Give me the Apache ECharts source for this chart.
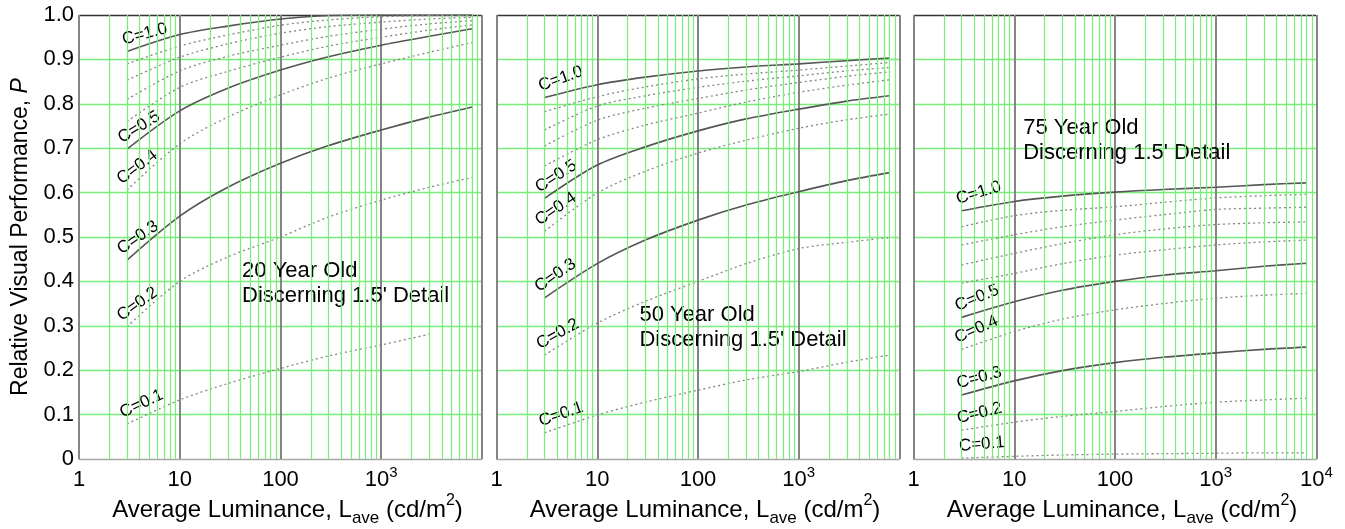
<!DOCTYPE html>
<html>
<head>
<meta charset="utf-8">
<title>Relative Visual Performance</title>
<script src="https://cdn.jsdelivr.net/npm/echarts@6/dist/echarts.min.js"></script>
<style>
    html, body { margin: 0; padding: 0; background: #fff; }
    #rvp_chart { width: 1345px; height: 529px; }
</style>
</head>
<body>
<div id="rvp_chart"></div>
<script>

// Data
// ------------------------------

// Average luminance sample points (cd/m2)
var luminance = [3, 10, 30, 100, 300, 1000, 3000, 8000];

// Contrast of each curve, top to bottom
var contrasts = ['1.0', '0.9', '0.8', '0.7', '0.6', '0.5', '0.4', '0.3', '0.2', '0.1'];

// Relative visual performance, one row per contrast (same order as contrasts)
var perf20 = [
    [0.918, 0.956, 0.975, 0.991, 0.999, 1.000, 1.000, 1.000],
    [0.890, 0.930, 0.955, 0.977, 0.989, 0.996, 0.999, 1.000],
    [0.853, 0.905, 0.935, 0.959, 0.974, 0.984, 0.991, 0.995],
    [0.810, 0.874, 0.907, 0.932, 0.952, 0.968, 0.980, 0.987],
    [0.760, 0.837, 0.873, 0.905, 0.930, 0.950, 0.966, 0.978],
    [0.698, 0.784, 0.835, 0.876, 0.906, 0.932, 0.952, 0.969],
    [0.606, 0.710, 0.770, 0.820, 0.858, 0.890, 0.916, 0.938],
    [0.448, 0.547, 0.612, 0.666, 0.706, 0.741, 0.770, 0.793],
    [0.298, 0.400, 0.455, 0.500, 0.545, 0.583, 0.612, 0.634],
    [0.079, 0.133, 0.170, 0.204, 0.232, 0.257, 0.281, null]
];

var perf50 = [
    [0.814, 0.843, 0.860, 0.874, 0.883, 0.890, 0.897, 0.903],
    [0.782, 0.816, 0.838, 0.856, 0.867, 0.876, 0.885, 0.893],
    [0.741, 0.795, 0.818, 0.837, 0.851, 0.863, 0.874, 0.882],
    [0.705, 0.763, 0.790, 0.812, 0.831, 0.848, 0.862, 0.872],
    [0.660, 0.719, 0.752, 0.779, 0.804, 0.826, 0.842, 0.854],
    [0.587, 0.662, 0.703, 0.739, 0.766, 0.788, 0.806, 0.818],
    [0.513, 0.599, 0.648, 0.689, 0.718, 0.745, 0.764, 0.777],
    [0.363, 0.440, 0.493, 0.538, 0.572, 0.602, 0.627, 0.645],
    [0.234, 0.306, 0.355, 0.400, 0.440, 0.474, 0.488, 0.499],
    [0.059, 0.099, 0.128, 0.155, 0.178, 0.197, 0.218, 0.234]
];

var perf75 = [
    [0.559, 0.580, 0.592, 0.601, 0.607, 0.612, 0.618, 0.622],
    [0.523, 0.548, 0.560, 0.568, 0.578, 0.588, 0.593, 0.596],
    [0.482, 0.505, 0.523, 0.538, 0.550, 0.562, 0.565, 0.567],
    [0.437, 0.463, 0.485, 0.505, 0.518, 0.528, 0.532, 0.534],
    [0.396, 0.418, 0.440, 0.459, 0.471, 0.482, 0.489, 0.493],
    [0.319, 0.354, 0.380, 0.400, 0.414, 0.424, 0.434, 0.441],
    [0.247, 0.287, 0.315, 0.336, 0.350, 0.362, 0.369, 0.373],
    [0.144, 0.176, 0.199, 0.217, 0.229, 0.239, 0.247, 0.252],
    [0.065, 0.083, 0.096, 0.107, 0.118, 0.128, 0.133, 0.137],
    [0.002, 0.006, 0.009, 0.011, 0.012, 0.013, 0.014, 0.014]
];

var panelTitles = ['20 Year Old', '50 Year Old', '75 Year Old'];

// Log grid: minor lines at 2..9 of every decade
var decades = [1, 10, 100, 1000];
var minorSteps = [2, 3, 4, 5, 6, 7, 8, 9];

// Y tick values
var yTicks = [0, 0.1, 0.2, 0.3, 0.4, 0.5, 0.6, 0.7, 0.8, 0.9, 1.0];


// Setup
// ------------------------------

var FONT = "'Liberation Sans', Arial, Helvetica, sans-serif";
var GREEN = '#78ee78';

var solidCurves = ['1.0', '0.5', '0.3'];
var labelledCurves = ['1.0', '0.5', '0.4', '0.3', '0.2', '0.1'];

// Layout per panel
var panels = [
    { left: 79,    perf: perf20, note: [42, 0.45],    angles: { '1.0': 15, '0.5': 32, '0.4': 37, '0.3': 35, '0.2': 36, '0.1': 25 } },
    { left: 496.5, perf: perf50, note: [26.5, 0.351], angles: { '1.0': 20, '0.5': 33, '0.4': 34, '0.3': 35, '0.2': 29, '0.1': 19 } },
    { left: 913.5, perf: perf75, note: [12.4, 0.773], angles: { '1.0': 17, '0.5': 22, '0.4': 24, '0.3': 15, '0.2': 14, '0.1': 5 } }
];

var minorLines = [];
decades.forEach(function(d) {
    minorSteps.forEach(function(m) { minorLines.push({ xAxis: d * m }); });
});

var grids = [], xAxes = [], yAxes = [], series = [];

panels.forEach(function(p, pi) {

    grids.push({ left: p.left, top: 15, width: 403, height: 444, outerBoundsMode: 'none', containLabel: false });

    xAxes.push({
        type: 'log',
        logBase: 10,
        gridIndex: pi,
        min: 1,
        max: 10000,
        name: 'Average Luminance, L{sub|ave} (cd/m{sup|2})',
        nameLocation: 'middle',
        nameGap: 34,
        nameMoveOverlap: false,
        nameTextStyle: {
            color: '#000', fontFamily: FONT, fontSize: 24, lineHeight: 34,
            padding: [0, 0, 0, 14],
            rich: {
                sub: { fontFamily: FONT, fontSize: 17, lineHeight: 20, verticalAlign: 'bottom', color: '#000' },
                sup: { fontFamily: FONT, fontSize: 16, lineHeight: 16, verticalAlign: 'top', color: '#000' }
            }
        },
        axisLine: { show: true, lineStyle: { color: '#a8a8a8', width: 1 } },
        axisTick: { show: false },
        axisLabel: {
            color: '#000', fontFamily: FONT, fontSize: 22, lineHeight: 30, margin: 6,
            showMinLabel: true,
            showMaxLabel: pi === 2,
            formatter: function(v) {
                var e = Math.round(Math.log(v) / Math.LN10);
                if (e < 3) return String(Math.pow(10, e));
                return '10{sup|' + e + '}';
            },
            rich: {
                sup: { fontFamily: FONT, fontSize: 15, lineHeight: 15, verticalAlign: 'top', color: '#000' }
            }
        },
        splitLine: { show: true, lineStyle: { color: '#858585', width: 2 } }
    });

    yAxes.push({
        type: 'value',
        gridIndex: pi,
        min: 0,
        max: 1,
        interval: 0.1,
        name: pi === 0 ? 'Relative Visual Performance, {it|P}' : '',
        nameLocation: 'middle',
        nameGap: 47,
        nameMoveOverlap: false,
        nameTextStyle: {
            color: '#000', fontFamily: FONT, fontSize: 23,
            rich: { it: { fontFamily: FONT, fontSize: 23, fontStyle: 'italic', color: '#000' } }
        },
        axisLine: { show: false },
        axisTick: { show: false },
        axisLabel: {
            show: pi === 0,
            color: '#000', fontFamily: FONT, fontSize: 22, margin: 5,
            formatter: function(v) { return v === 0 ? '0' : v.toFixed(1); }
        },
        splitLine: {
            show: true,
            lineStyle: {
                color: yTicks.map(function(t, i) {
                    return i === 0 ? '#a8a8a8' : (i === yTicks.length - 1 ? '#333' : GREEN);
                }),
                width: 1.3
            }
        }
    });

    // Minor log grid lines
    series.push({
        type: 'line',
        xAxisIndex: pi, yAxisIndex: pi,
        data: [[1, 0]],
        symbol: 'none',
        silent: true,
        z: 1,
        lineStyle: { opacity: 0 },
        markLine: {
            silent: true,
            symbol: ['none', 'none'],
            label: { show: false },
            lineStyle: { color: GREEN, width: 1.2, type: 'solid' },
            data: minorLines,
            animation: false
        }
    });

    // Curves
    contrasts.forEach(function(c, ci) {
        var solid = solidCurves.indexOf(c) >= 0;
        series.push({
            type: 'line',
            name: panelTitles[pi] + ' C=' + c,
            xAxisIndex: pi, yAxisIndex: pi,
            data: luminance.map(function(x, j) { return [x, p.perf[ci][j]]; }),
            smooth: 0.3,
            symbol: 'none',
            silent: true,
            z: 3,
            lineStyle: solid
                ? { color: '#555', width: 1.6, type: 'solid' }
                : { color: '#858585', width: 1.3, type: [2, 3] }
        });
    });

    // Curve labels at the start of each curve
    series.push({
        type: 'scatter',
        xAxisIndex: pi, yAxisIndex: pi,
        symbolSize: 1,
        silent: true,
        z: 4,
        itemStyle: { color: 'rgba(0,0,0,0)', opacity: 1 },
        data: labelledCurves.map(function(c) {
            var ci = contrasts.indexOf(c);
            return {
                value: [luminance[0], p.perf[ci][0]],
                label: {
                    show: true,
                    formatter: 'C=' + c,
                    position: [0, 0],
                    offset: [-1, -3],
                    rotate: p.angles[c],
                    align: 'left',
                    verticalAlign: 'bottom',
                    color: '#000',
                    opacity: 1,
                    textBorderWidth: 0,
                    fontFamily: FONT,
                    fontSize: 17
                }
            };
        })
    });

    // Panel annotation
    series.push({
        type: 'scatter',
        xAxisIndex: pi, yAxisIndex: pi,
        symbolSize: 1,
        silent: true,
        z: 4,
        itemStyle: { color: 'rgba(0,0,0,0)', opacity: 1 },
        data: [{
            value: p.note,
            label: {
                show: true,
                formatter: panelTitles[pi] + "\nDiscerning 1.5' Detail",
                position: [0, 0],
                align: 'left',
                verticalAlign: 'top',
                color: '#000',
                opacity: 1,
                textBorderWidth: 0,
                fontFamily: FONT,
                fontSize: 22,
                lineHeight: 25
            }
        }]
    });
});


// Chart
// ------------------------------

var chart = echarts.init(document.getElementById('rvp_chart'));

chart.setOption({
    animation: false,
    backgroundColor: '#fff',
    textStyle: { fontFamily: FONT },
    grid: grids,
    xAxis: xAxes,
    yAxis: yAxes,
    series: series
});

</script>
</body>
</html>
